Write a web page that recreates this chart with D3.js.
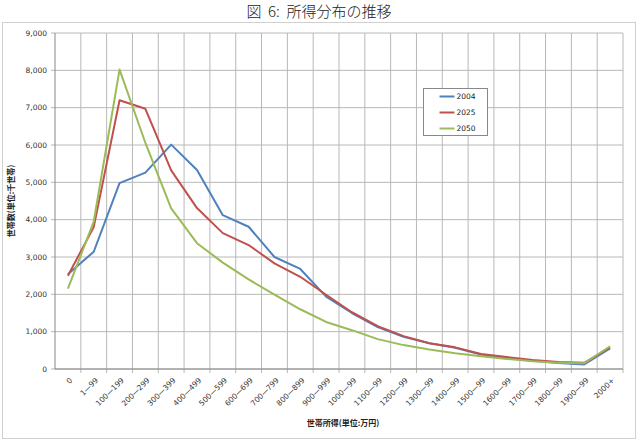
<!DOCTYPE html>
<html>
<head>
<meta charset="utf-8">
<script src="https://cdn.jsdelivr.net/npm/d3@7"></script>
<style>
  body { margin: 0; background: #fff; }
  svg { display: block; }
</style>
</head>
<body>
<div id="chart"></div>
<script>
// categories (income bands, 万円)
const categories = ["0", "1—99", "100—199", "200—299", "300—399", "400—499", "500—599",
  "600—699", "700—799", "800—899", "900—999", "1000—99", "1100—99", "1200—99",
  "1300—99", "1400—99", "1500—99", "1600—99", "1700—99", "1800—99", "1900—99", "2000+"];

// households (千世帯)
const y2004 = [2540, 3140, 4980, 5260, 6010, 5330, 4120, 3810, 3000, 2680, 1940, 1500,
  1120, 860, 690, 570, 390, 300, 220, 160, 120, 550];
const y2025 = [2500, 3800, 7200, 6970, 5320, 4310, 3640, 3320, 2830, 2470, 1990, 1520,
  1150, 880, 690, 580, 400, 320, 240, 190, 165, 580];
const y2050 = [2150, 3950, 8020, 6060, 4300, 3370, 2850, 2400, 1990, 1600, 1260, 1040,
  800, 640, 520, 420, 340, 270, 210, 170, 155, 610];

const seriesNames = ["2004", "2025", "2050"];
const seriesColors = ["#4f81bd", "#c0504d", "#9bbb59"];
const yTicks = d3.range(0, 9001, 1000);

const width = 638, height = 448;
const margin = { top: 33, right: 15, bottom: 79, left: 55 };

const svg = d3.select("#chart").append("svg")
  .attr("width", width)
  .attr("height", height);

// outer frame
svg.append("rect")
  .attr("x", 2.5).attr("y", 22.5)
  .attr("width", 633).attr("height", 416)
  .attr("fill", "#fff")
  .attr("stroke", "#d0d0d0");

// title
svg.append("text")
  .attr("x", 319).attr("y", 17)
  .attr("text-anchor", "middle")
  .attr("font-family", "Noto Sans CJK JP")
  .attr("font-size", 15)
  .attr("font-weight", 300)
  .attr("fill", "#222")
  .style("white-space", "pre")
  .text("図  6:  所得分布の推移");

const x = d3.scaleBand()
  .domain(categories)
  .range([margin.left, width - margin.right]);

const y = d3.scaleLinear()
  .domain([0, 9000])
  .range([height - margin.bottom, margin.top]);

const grid = svg.append("g");
// horizontal grid
grid.selectAll("line.h")
  .data(yTicks)
  .enter()
  .append("line")
  .attr("x1", margin.left - 4)
  .attr("x2", width - margin.right)
  .attr("y1", d => y(d))
  .attr("y2", d => y(d))
  .attr("stroke", "#b8b8b8")
  .attr("stroke-width", 1);
// vertical grid at band boundaries
grid.selectAll("line.v")
  .data(categories.slice(1).concat(["__end"]))
  .enter()
  .append("line")
  .attr("x1", (d, i) => x(categories[0]) + (i + 1) * x.bandwidth())
  .attr("x2", (d, i) => x(categories[0]) + (i + 1) * x.bandwidth())
  .attr("y1", margin.top)
  .attr("y2", height - margin.bottom + 4)
  .attr("stroke", "#b8b8b8")
  .attr("stroke-width", 1);
// axis lines
svg.append("line")
  .attr("x1", margin.left).attr("x2", margin.left)
  .attr("y1", margin.top).attr("y2", height - margin.bottom)
  .attr("stroke", "#888");
svg.append("line")
  .attr("x1", margin.left).attr("x2", width - margin.right)
  .attr("y1", y(0)).attr("y2", y(0))
  .attr("stroke", "#888");

// y tick labels
svg.append("g")
  .selectAll("text")
  .data(yTicks)
  .enter()
  .append("text")
  .attr("x", margin.left - 8)
  .attr("y", d => y(d))
  .attr("dy", "0.35em")
  .attr("text-anchor", "end")
  .attr("font-family", "DejaVu Sans")
  .attr("font-size", 7.5)
  .attr("fill", "#333")
  .text(d3.format(","));

// x tick labels, rotated
svg.append("g")
  .selectAll("text")
  .data(categories)
  .enter()
  .append("text")
  .attr("transform", d => `translate(${x(d) + x.bandwidth() / 2 + 3}, ${y(0) + 10}) rotate(-45)`)
  .attr("text-anchor", "end")
  .attr("dy", "0.35em")
  .attr("font-family", "DejaVu Sans")
  .attr("font-size", 7.5)
  .attr("fill", "#333")
  .text(d => d);

// axis titles
svg.append("text")
  .attr("x", (margin.left + width - margin.right) / 2 + 4)
  .attr("y", 426)
  .attr("text-anchor", "middle")
  .attr("font-family", "Noto Sans CJK JP")
  .attr("font-size", 8)
  .attr("font-weight", "bold")
  .attr("fill", "#222")
  .text("世帯所得(単位:万円)");

svg.append("text")
  .attr("transform", `translate(14, ${(margin.top + height - margin.bottom) / 2}) rotate(-90)`)
  .attr("text-anchor", "middle")
  .attr("font-family", "Noto Sans CJK JP")
  .attr("font-size", 8)
  .attr("font-weight", "bold")
  .attr("fill", "#222")
  .text("世帯数(単位:千世帯)");

// lines
const line = d3.line()
  .x((d, i) => x(categories[i]) + x.bandwidth() / 2)
  .y(d => y(d));

const seriesData = [y2004, y2025, y2050];
svg.append("g")
  .selectAll("path")
  .data(seriesData)
  .enter()
  .append("path")
  .attr("d", d => line(d))
  .attr("fill", "none")
  .attr("stroke", (d, i) => seriesColors[i])
  .attr("stroke-width", 2)
  .attr("stroke-linejoin", "round");

// legend
const legend = svg.append("g").attr("transform", "translate(423.5, 88.5)");
legend.append("rect")
  .attr("width", 64).attr("height", 47)
  .attr("fill", "#fff")
  .attr("stroke", "#888");
const items = legend.selectAll("g")
  .data(seriesNames)
  .enter()
  .append("g")
  .attr("transform", (d, i) => `translate(0, ${8 + i * 16})`);
items.append("line")
  .attr("x1", 16).attr("x2", 31)
  .attr("y1", 0).attr("y2", 0)
  .attr("stroke", (d, i) => seriesColors[i])
  .attr("stroke-width", 2);
items.append("text")
  .attr("x", 33).attr("y", 0)
  .attr("dy", "0.35em")
  .attr("font-family", "DejaVu Sans")
  .attr("font-size", 7.5)
  .attr("fill", "#222")
  .text(d => d);
</script>
</body>
</html>
